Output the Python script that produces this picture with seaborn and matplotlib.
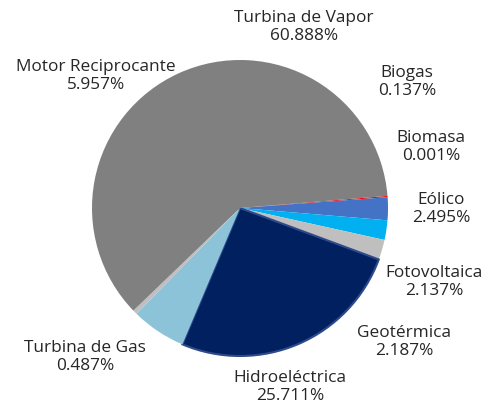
import matplotlib
matplotlib.use("Agg")
import matplotlib.pyplot as plt
import seaborn as sns

# data (clockwise from ~4.7 deg)
tecnologias = ["Biomasa", "Biogas", "Eólico", "Fotovoltaica", "Geotérmica",
               "Hidroeléctrica", "Motor Reciprocante", "Turbina de Gas", "Turbina de Vapor"]
porcentajes = [0.001, 0.137, 2.495, 2.137, 2.187, 25.711, 5.957, 0.487, 60.888]
colores = ["#FFC000", "#FF0000", "#4472C4", "#00B0F0", "#BFBFBF",
           "#002060", "#8CC3D8", "#BFBFBF", "#808080"]

# label text and pixel anchor (center of two-line block)
etiquetas = [("Turbina de Vapor\n60.888%", 304, 27),
             ("Biogas\n0.137%", 407, 82),
             ("Biomasa\n0.001%", 431, 147),
             ("Eólico\n2.495%", 441, 209),
             ("Fotovoltaica\n2.137%", 434, 282),
             ("Geotérmica\n2.187%", 404, 342),
             ("Hidroeléctrica\n25.711%", 290, 387),
             ("Turbina de Gas\n0.487%", 85, 357),
             ("Motor Reciprocante\n5.957%", 96, 76)]

sns.set_theme(style="white")
plt.rcParams['font.family'] = ['Open Sans', 'DejaVu Sans']

W, H = 493, 409
cx, cy, R = 240, 208, 148

fig = plt.figure(figsize=(W / 100, H / 100), dpi=100)
ax = fig.add_axes([0, 0, 1, 1])
wedges, _ = ax.pie(porcentajes, colors=colores, startangle=4.7, counterclock=False,
                   radius=1, center=(0, 0), wedgeprops=dict(linewidth=0))
hidro = wedges[tecnologias.index("Hidroeléctrica")]
hidro.set_edgecolor("#2E4A8B")
hidro.set_linewidth(1.5)

ax.set_xlim(-cx / R, (W - cx) / R)
ax.set_ylim(-(H - cy) / R, cy / R)
ax.set_aspect("equal")
ax.axis("off")

for txt, px, py in etiquetas:
    ax.text((px - cx) / R, (cy - py) / R, txt, ha="center", va="center",
            fontsize=12.4, color="#262626", linespacing=1.15)

fig.savefig("out.png", dpi=100, facecolor="white")
plt.close(fig)
